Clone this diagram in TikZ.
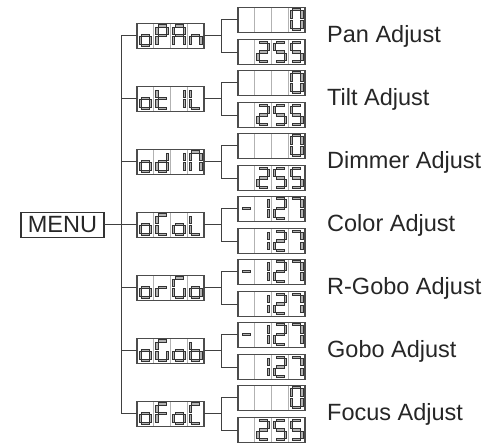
\documentclass[tikz,border=0pt]{standalone}
\usepackage{fontspec}
\setmainfont{Liberation Sans}
\usetikzlibrary{calc}
\tikzset{
  conn/.style={draw=black!75, line width=1pt},
  lcdbox/.style={draw=black!70, line width=1.1pt, minimum width=67pt, minimum height=25pt, inner sep=0pt, outer sep=0pt},
  menubox/.style={draw=black!80, line width=1.4pt, minimum width=83pt, minimum height=25pt, inner sep=0pt, outer sep=0pt, font=\fontsize{23.5}{24}\selectfont, text=black!85},
  lbl/.style={anchor=base west, inner sep=0pt, font=\fontsize{23.5}{24}\selectfont, text=black!85},
  sg/.style={draw=black!80, line width=0.6pt, fill=black!30},
  sepline/.style={draw=black!30, line width=0.7pt},
}
\def\chO{c,d,e,g}
\def\chP{a,b,e,f,g}
\def\chA{a,b,c,e,f,g}
\def\chN{c,e,g}
\def\chT{d,e,f,g}
\def\chI{b,c}
\def\chL{d,e,f}
\def\chD{b,c,d,e,g}
\def\chM{a,b,c,e,f}
\def\chC{a,d,e,f}
\def\chR{e,g}
\def\chG{a,c,d,e,f}
\def\chB{c,d,e,f,g}
\def\chF{a,e,f,g}
\def\chZero{a,b,c,d,e,f}
\def\chTwo{a,b,d,e,g}
\def\chFive{a,c,d,f,g}
\def\chMinus{g}
\def\chOne{b,c}
\def\chSeven{a,b,c}
\newcommand\lcdchar[3]{%
  \begin{scope}[shift={($(#1.north west)+({(#2-1)*16.75+3.1},-2.3)$)}]
  \foreach \s in #3 {%
    \if a\s \draw[sg] (1.2,-1.1) rectangle (9.3,1.1);\fi
    \if b\s \draw[sg] (9.4,-1.2) rectangle (11.6,-8.55);\fi
    \if c\s \draw[sg] (9.4,-10.95) rectangle (11.6,-18.3);\fi
    \if d\s \draw[sg] (1.2,-20.6) rectangle (9.3,-18.4);\fi
    \if e\s \draw[sg] (-1.1,-10.95) rectangle (1.1,-18.3);\fi
    \if f\s \draw[sg] (-1.1,-1.2) rectangle (1.1,-8.55);\fi
    \if g\s \draw[sg] (1.2,-10.85) rectangle (9.3,-8.65);\fi
  }%
  \end{scope}}
\newcommand\lcdcells[1]{%
  \foreach \k in {1,2,3}{\draw[sepline] ($(#1.north west)+(\k*16.75,-0.6)$) -- ($(#1.south west)+(\k*16.75,0.6)$);}}
\begin{document}
\begin{tikzpicture}[x=1pt,y=1pt]
\useasboundingbox (0,0) rectangle (493,-443);
% menu
\node[menubox] (menu) at (62.5,-225) {MENU};
\coordinate (tr0) at (121,-36);
\coordinate (tr6) at (121,-414);
% groups
\foreach \i/\lab in {0/Pan Adjust,1/Tilt Adjust,2/Dimmer Adjust,3/Color Adjust,4/R-Gobo Adjust,5/Gobo Adjust,6/Focus Adjust}{
  \pgfmathsetmacro\yc{-36-63*\i}
  \node[lcdbox] (t\i) at (170.5,\yc) {};
  \node[lcdbox] (u\i) at (271.5,\yc+16.25) {};
  \node[lcdbox] (v\i) at (271.5,\yc-16.25) {};
  \coordinate (b\i) at (221.5,\yc);
  \node[lbl] (l\i) at (327,\yc-6.2) {\lab};
  \lcdcells{t\i}
  \lcdcells{u\i}
  \lcdcells{v\i}
  \draw[conn] (t\i.west) -- (t\i.west -| tr0);
  \draw[conn] (t\i.east) -- (b\i);
  \draw[conn] (b\i) |- (u\i.west);
  \draw[conn] (b\i) |- (v\i.west);
}
\draw[conn] (tr0) -- (tr6);
\draw[conn] (menu.east) -- (menu.east -| tr0);
% top displays
\lcdchar{t0}{1}{\chO}\lcdchar{t0}{2}{\chP}\lcdchar{t0}{3}{\chA}\lcdchar{t0}{4}{\chN}
\lcdchar{t1}{1}{\chO}\lcdchar{t1}{2}{\chT}\lcdchar{t1}{3}{\chI}\lcdchar{t1}{4}{\chL}
\lcdchar{t2}{1}{\chO}\lcdchar{t2}{2}{\chD}\lcdchar{t2}{3}{\chI}\lcdchar{t2}{4}{\chM}
\lcdchar{t3}{1}{\chO}\lcdchar{t3}{2}{\chC}\lcdchar{t3}{3}{\chO}\lcdchar{t3}{4}{\chL}
\lcdchar{t4}{1}{\chO}\lcdchar{t4}{2}{\chR}\lcdchar{t4}{3}{\chG}\lcdchar{t4}{4}{\chO}
\lcdchar{t5}{1}{\chO}\lcdchar{t5}{2}{\chG}\lcdchar{t5}{3}{\chO}\lcdchar{t5}{4}{\chB}
\lcdchar{t6}{1}{\chO}\lcdchar{t6}{2}{\chF}\lcdchar{t6}{3}{\chO}\lcdchar{t6}{4}{\chC}
% value displays 0 / 255
\foreach \i in {0,1,2,6}{
  \lcdchar{u\i}{4}{\chZero}
  \lcdchar{v\i}{2}{\chTwo}\lcdchar{v\i}{3}{\chFive}\lcdchar{v\i}{4}{\chFive}
}
% value displays -127 / 127
\foreach \i in {3,4,5}{
  \lcdchar{u\i}{1}{\chMinus}\lcdchar{u\i}{2}{\chOne}\lcdchar{u\i}{3}{\chTwo}\lcdchar{u\i}{4}{\chSeven}
  \lcdchar{v\i}{2}{\chOne}\lcdchar{v\i}{3}{\chTwo}\lcdchar{v\i}{4}{\chSeven}
}
\end{tikzpicture}
\end{document}
